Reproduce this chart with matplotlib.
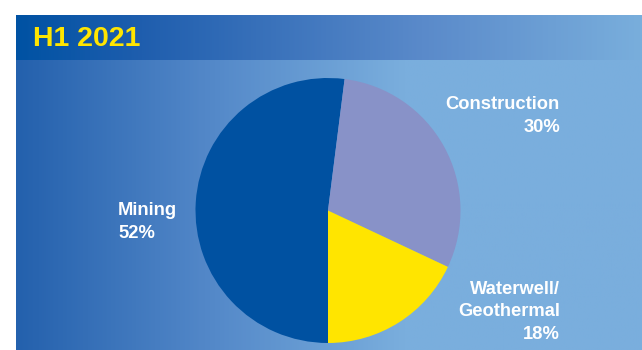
import numpy as np
import matplotlib.pyplot as plt
from matplotlib.colors import LinearSegmentedColormap

plt.rcParams['font.family'] = ['Liberation Sans', 'DejaVu Sans']

# Dati
titolo = "H1 2021"
settori = ["Mining", "Construction", "Waterwell/\nGeothermal"]
quote = [52, 30, 18]
colori = ["#0051A1", "#8892C8", "#FFE500"]

fig = plt.figure(figsize=(6.42, 3.5), dpi=100)
ax = fig.add_axes([0, 0, 1, 1])

# Sfondo a gradiente (corpo e barra del titolo)
grad = np.linspace(0, 1, 400).reshape(1, -1)
cm_corpo = LinearSegmentedColormap.from_list("corpo", [(0, "#2461AD"), (0.3, "#5287C8"), (0.62, "#7AAEDD"), (1, "#7AAEDD")])
cm_titolo = LinearSegmentedColormap.from_list("titolo", [(0, "#0052A3"), (0.2, "#1F5EAE"), (0.65, "#5A8ACA"), (1, "#79AEDC")])
ax.imshow(grad, extent=[16, 642, 0, 290], cmap=cm_corpo, aspect='auto', zorder=0)
ax.imshow(grad, extent=[16, 642, 290, 335], cmap=cm_titolo, aspect='auto', zorder=0)

# Torta
ax.pie(quote, colors=colori, startangle=270, counterclock=False,
       center=(328, 139.5), radius=132.5, wedgeprops=dict(linewidth=0))

ax.set_xlim(0, 642)
ax.set_ylim(0, 350)
ax.set_aspect('auto')
ax.axis('off')

ax.text(33, 311, titolo, color="#FFE500", fontsize=20.5, fontweight='bold', va='center', ha='left')

stile = dict(color='white', fontsize=13.2, fontweight='bold', linespacing=1.42)
ax.text(118, 128, f"{settori[0]}\n{quote[0]}%", ha='left', va='center', **stile)
ax.text(560, 234, f"{settori[1]}\n{quote[1]}%", ha='right', va='center', multialignment='right', **stile)
ax.text(560, 38, f"{settori[2]}\n{quote[2]}%", ha='right', va='center', multialignment='right', **stile)

fig.savefig("out.png", dpi=100, facecolor='white')
